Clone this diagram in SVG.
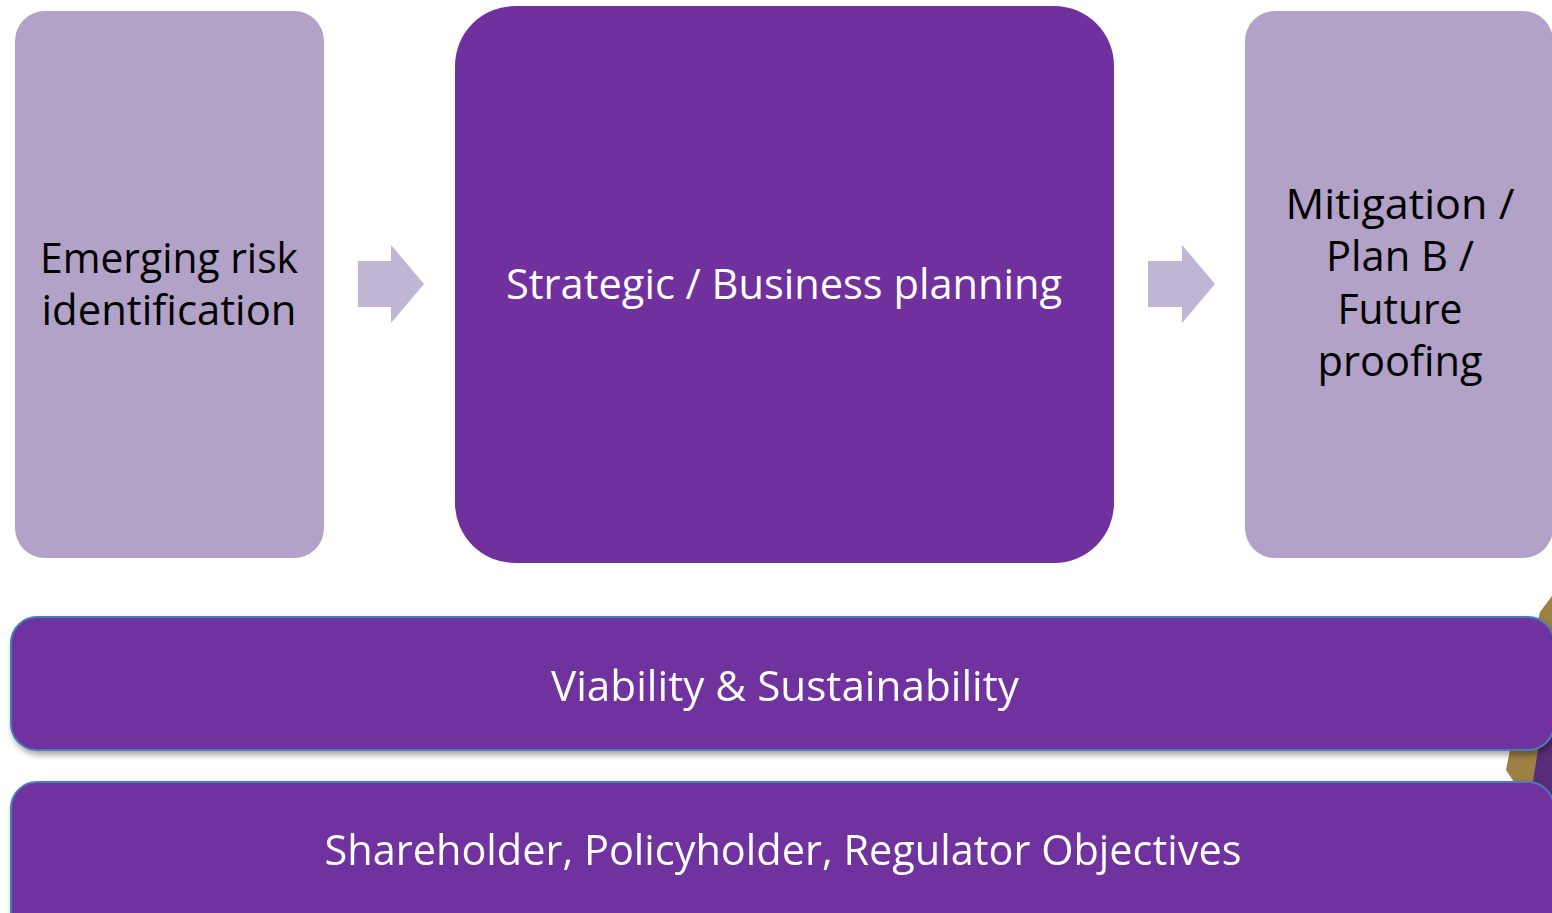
<svg xmlns="http://www.w3.org/2000/svg" width="1552" height="913" viewBox="0 0 1552 913">
  <defs>
    <filter id="shadow" x="-5%" y="-20%" width="110%" height="150%">
      <feGaussianBlur in="SourceAlpha" stdDeviation="3"/>
      <feOffset dx="2" dy="4" result="b"/>
      <feComponentTransfer><feFuncA type="linear" slope="0.35"/></feComponentTransfer>
      <feMerge><feMergeNode/><feMergeNode in="SourceGraphic"/></feMerge>
    </filter>
  </defs>
  <style>
    .light { fill: #b2a2c8; }
    .dark { fill: #70309e; }
    .bar { fill: #70309e; stroke: #4a7ebb; stroke-width: 2; }
    .arrow { fill: #c0b6d4; }
    text { font-family: "Open Sans", "Noto Sans", "Liberation Sans", sans-serif; text-anchor: middle; }
    .dk { fill: #000000; font-size: 42px; }
    .wt { fill: #ffffff; font-size: 42px; }
  </style>

  <!-- decorative wheel fragment behind the bars -->
  <g id="decor">
    <path d="M1552 596 L1540 612 L1522 690 L1506 770 L1526 800 L1552 800 Z" fill="#9c8044"/>
    <path d="M1552 700 L1538 750 L1530 800 L1552 800 Z" fill="#5a2d7a"/>
  </g>

  <g id="node-emerging">
    <rect class="light" x="15" y="11" width="309" height="547" rx="30"/>
    <text class="dk" x="169" y="273" textLength="258" lengthAdjust="spacingAndGlyphs">Emerging risk</text>
    <text class="dk" x="169" y="325" textLength="255" lengthAdjust="spacingAndGlyphs">identification</text>
  </g>

  <g id="node-strategic">
    <rect class="dark" x="455" y="6" width="659" height="557" rx="60"/>
    <text class="wt" x="784" y="299" textLength="556" lengthAdjust="spacingAndGlyphs">Strategic / Business planning</text>
  </g>

  <g id="node-mitigation">
    <rect class="light" x="1245" y="11" width="308" height="547" rx="30"/>
    <text class="dk" x="1400" y="219" textLength="229" lengthAdjust="spacingAndGlyphs">Mitigation /</text>
    <text class="dk" x="1400" y="271" textLength="148" lengthAdjust="spacingAndGlyphs">Plan B /</text>
    <text class="dk" x="1400" y="324" textLength="125" lengthAdjust="spacingAndGlyphs">Future</text>
    <text class="dk" x="1400" y="376" textLength="165" lengthAdjust="spacingAndGlyphs">proofing</text>
  </g>

  <g id="connectors">
    <polygon class="arrow" points="358,261 391,261 391,245 424,284 391,323 391,307 358,307"/>
    <polygon class="arrow" points="1148,261 1182,261 1182,245 1215,284 1182,323 1182,307 1148,307"/>
  </g>

  <g id="node-viability" filter="url(#shadow)">
    <rect class="bar" x="11" y="617" width="1543" height="133" rx="26"/>
    <text class="wt" x="785" y="701" textLength="468" lengthAdjust="spacingAndGlyphs">Viability &amp; Sustainability</text>
  </g>

  <g id="node-objectives" filter="url(#shadow)">
    <rect class="bar" x="11" y="782" width="1543" height="160" rx="26"/>
    <text class="wt" x="783" y="865" textLength="917" lengthAdjust="spacingAndGlyphs">Shareholder, Policyholder, Regulator Objectives</text>
  </g>
</svg>
